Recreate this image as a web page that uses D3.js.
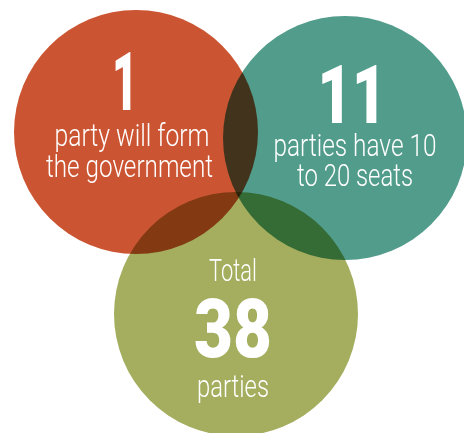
<!DOCTYPE html>
<html><head><meta charset="utf-8">
<script src="https://cdn.jsdelivr.net/npm/d3@7"></script>
<style>html,body{margin:0;padding:0;background:#fff;}svg{display:block;}</style>
</head><body>
<svg id="c" width="464" height="433"></svg>
<script>
// Data
const groups = ["government", "midsize", "total"];
const numbers = ["1", "11", "38"];
const colors = ["#CB5532", "#529C8C", "#A4AE5E"];
const cx = [136, 345, 236];
const cy = [132, 138, 314];
const labelsAbove = [[], [], ["Total"]];
const labelsBelow = [["party will form", "the government"], ["parties have 10", "to 20 seats"], ["parties"]];

const svg = d3.select("#c");
const r = 122;
const g = svg.append("g").style("isolation", "isolate");
g.selectAll("circle").data(groups).join("circle")
  .attr("cx", (d, i) => cx[i]).attr("cy", (d, i) => cy[i]).attr("r", r)
  .attr("fill", (d, i) => colors[i])
  .style("mix-blend-mode", "multiply");

function txt(x, y, s, size, w, weight) {
  svg.append("text").attr("x", x).attr("y", y).attr("text-anchor", "middle")
    .attr("font-family", "Roboto, 'Liberation Sans', sans-serif")
    .attr("font-size", size).attr("font-weight", weight).attr("fill", "#fff")
    .attr("textLength", w).attr("lengthAdjust", "spacingAndGlyphs").text(s);
}
// layout per group
const numPos = [[125, 110, 26], [352, 123, 69], [233, 357, 78]];
const linePos = [[[132, 146, 155], [129.5, 177, 167]], [[355, 156, 163], [355, 186, 116]], [[233, 397, 72]]];
const abovePos = [[], [], [[233, 281, 48]]];
groups.forEach((gname, i) => {
  const [nx, ny, nw] = numPos[i];
  txt(nx, ny, numbers[i], 82, nw, 900);
  labelsBelow[i].forEach((s, j) => { const [x, y, w] = linePos[i][j]; txt(x, y, s, 31, w, 300); });
  labelsAbove[i].forEach((s, j) => { const [x, y, w] = abovePos[i][j]; txt(x, y, s, 31, w, 300); });
});
</script>
</body></html>
